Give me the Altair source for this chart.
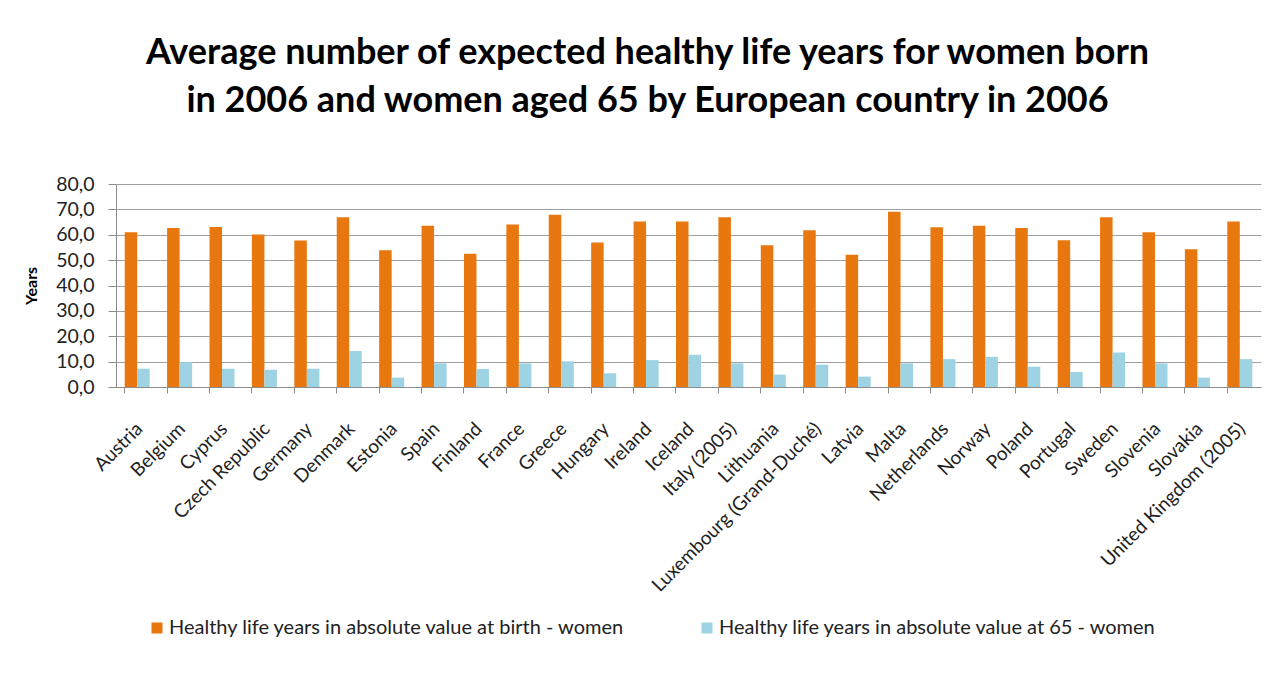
import altair as alt
import pandas as pd

countries = ["Austria", "Belgium", "Cyprus", "Czech Republic", "Germany", "Denmark",
             "Estonia", "Spain", "Finland", "France", "Greece", "Hungary", "Ireland",
             "Iceland", "Italy (2005)", "Lithuania", "Luxembourg (Grand-Duché)", "Latvia",
             "Malta", "Netherlands", "Norway", "Poland", "Portugal", "Sweden", "Slovenia",
             "Slovakia", "United Kingdom (2005)"]

at_birth = [61.0, 62.7, 63.1, 60.1, 57.7, 66.9, 53.9, 63.5, 52.5, 64.0, 67.9, 56.9, 65.2,
            65.2, 66.9, 55.9, 61.8, 52.1, 69.1, 63.0, 63.5, 62.7, 57.8, 66.9, 61.0, 54.3, 65.2]
at_65 = [7.2, 9.8, 7.2, 6.8, 7.2, 14.2, 3.7, 9.3, 7.1, 9.3, 10.1, 5.4, 10.6,
         12.7, 9.3, 4.9, 8.8, 4.1, 9.3, 11.0, 11.9, 8.0, 5.9, 13.6, 9.3, 3.7, 11.0]

series = ["Healthy life years in absolute value at birth - women",
          "Healthy life years in absolute value at 65 - women"]
colors = ["#E8770F", "#9DD3E2"]

rows = []
for c, b, s in zip(countries, at_birth, at_65):
    rows.append({"country": c, "series": series[0], "value": b})
    rows.append({"country": c, "series": series[1], "value": s})
df = pd.DataFrame(rows)

FONT = "Lato"

chart = alt.Chart(df).mark_bar().encode(
    x=alt.X("country:N", sort=countries, title=None,
            scale=alt.Scale(paddingInner=0.41, paddingOuter=0.205),
            axis=alt.Axis(labelAngle=-45, labelFontSize=19, labelColor="#222222",
                          labelFont=FONT, bandPosition=0, tickSize=6, tickColor="#8c8c8c",
                          domainColor="#8c8c8c", labelPadding=26, labelOffset=-4,
                          grid=False, labelOverlap=False, labelLimit=400)),
    xOffset=alt.XOffset("series:N", sort=series, scale=alt.Scale(paddingInner=0, paddingOuter=0)),
    y=alt.Y("value:Q", title="Years",
            scale=alt.Scale(domain=[0, 80], nice=False),
            axis=alt.Axis(values=[0, 10, 20, 30, 40, 50, 60, 70, 80],
                          labelExpr="replace(format(datum.value, '.1f'), '.', ',')",
                          labelFontSize=19.5, labelColor="#222222", labelFont=FONT,
                          tickSize=8, tickColor="#8c8c8c", domainColor="#8c8c8c",
                          gridColor="#a0a0a0", gridWidth=1, labelPadding=14,
                          titleFont=FONT, titleFontSize=16, titleFontWeight="bold",
                          titleColor="#000000", titlePadding=16)),
    color=alt.Color("series:N", sort=series,
                    scale=alt.Scale(domain=series, range=colors),
                    legend=alt.Legend(title=None, orient="none", direction="horizontal",
                                      legendX=31, legendY=434, symbolType="square",
                                      symbolSize=121, symbolStrokeWidth=0,
                                      labelFontSize=20, labelFont=FONT, labelOffset=2,
                                      labelColor="#222222", columnPadding=71,
                                      labelLimit=700)),
).properties(
    width=1145,
    height=203,
    autosize="none",
    padding={"left": 108, "top": 176, "right": 9, "bottom": 285},
    title=alt.TitleParams(
        text=["Average number of expected healthy life years for women born",
              "in 2006 and women aged 65 by European country in 2006"],
        font=FONT, fontSize=36, fontWeight="bold", color="#000000",
        lineHeight=48, offset=54, anchor="middle", dx=-41),
).configure_view(stroke=None)

chart.save("out.html", embed_options={"renderer": "svg", "actions": False})
